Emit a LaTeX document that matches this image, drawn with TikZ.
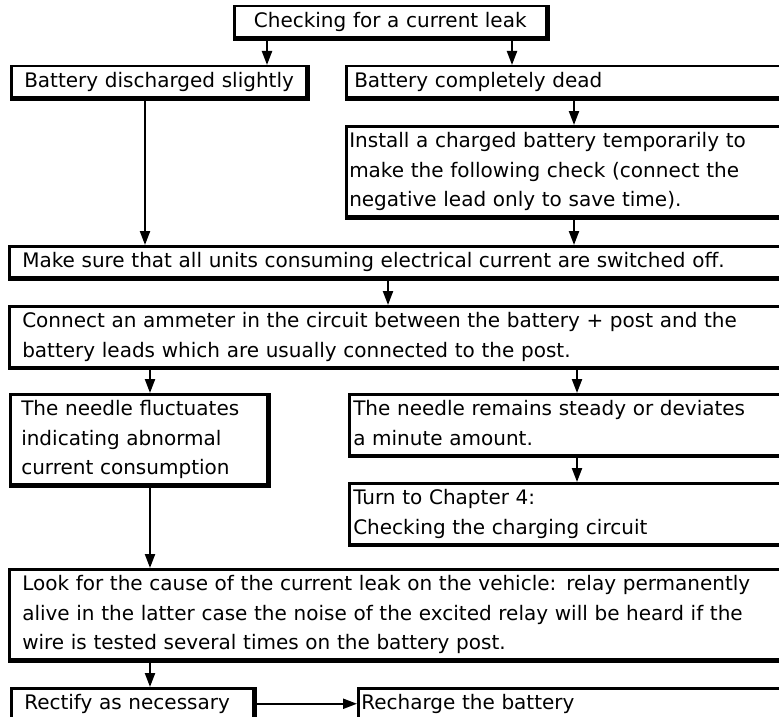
\documentclass[tikz,border=0pt]{standalone}
\usepackage{fontspec}
\setmainfont{DejaVu Sans}
\usetikzlibrary{arrows.meta}
\newcommand\TL[1]{\mbox{\strut #1}}
\newcommand\shadowedge[1]{\draw[edgeline] (#1.south west) -- (#1.south east) -- (#1.north east);}
\tikzset{
  flowbox/.style={draw, line width=2.5pt, anchor=north west, align=left,
    inner ysep=0.75pt, font=\fontsize{20pt}{29.5pt}\selectfont},
  edgeline/.style={line width=4.5pt, line join=miter},
  arr/.style={line width=2.2pt, -{Triangle[length=14pt,width=10pt]}}
}
\begin{document}
\begin{tikzpicture}[x=1pt,y=-1pt]
\useasboundingbox (0,0) rectangle (779,717);
\fill[white] (0,0) rectangle (779,717);
\clip (0,0) rectangle (779,717);
% boxes
\node[flowbox, inner xsep=0pt, text width=312pt, align=center] (top) at (233,5) {\TL{Checking for a current leak}};
\node[flowbox, inner xsep=13pt, text width=269pt] (bl) at (10,65) {\TL{Battery discharged slightly}};
\node[flowbox, inner xsep=8pt, text width=429pt] (br) at (345,65) {\TL{Battery completely dead}};
\node[flowbox, inner xsep=3pt, text width=439pt] (inst) at (345,125) {\TL{Install a charged battery temporarily to}\\\TL{make the following check (connect the}\\\TL{negative lead only to save time).}};
\node[flowbox, inner xsep=13pt, text width=756pt] (sure) at (8,245) {\TL{Make sure that all units consuming electrical current are switched off.}};
\node[flowbox, inner xsep=13pt, text width=756pt] (conn) at (8,305) {\TL{Connect an ammeter in the circuit between the battery + post and the}\\\TL{battery leads which are usually connected to the post.}};
\node[flowbox, inner xsep=11pt, text width=235pt] (nl) at (9,393) {\TL{The needle fluctuates}\\\TL{indicating abnormal}\\\TL{current consumption}};
\node[flowbox, inner xsep=4pt, text width=434pt] (nr) at (348,393) {\TL{The needle remains steady or deviates}\\\TL{a minute amount.}};
\node[flowbox, inner xsep=4pt, text width=434pt] (turn) at (348,482) {\TL{Turn to Chapter 4:}\\\TL{Checking the charging circuit}};
\node[flowbox, inner xsep=13pt, text width=756pt] (look) at (8,568) {\TL{Look for the cause of the current leak on the vehicle: relay permanently}\\\TL{alive in the latter case the noise of the excited relay will be heard if the}\\\TL{wire is tested several times on the battery post.}};
\node[flowbox, inner xsep=13pt, text width=216pt] (rect) at (10,687) {\TL{Rectify as necessary}};
\node[flowbox, inner xsep=3pt, text width=427pt] (rech) at (357,687) {\TL{Recharge the battery}};
% thick right and bottom edges
\foreach \n in {top,bl,br,inst,sure,conn,nl,nr,turn,look,rect,rech}{\shadowedge{\n}}
% x positions of connectors
\coordinate (xa) at (267,0);
\coordinate (xb) at (512,0);
\coordinate (xc) at (574,0);
\coordinate (xd) at (145,0);
\coordinate (xe) at (388,0);
\coordinate (xf) at (150,0);
\coordinate (xg) at (577,0);
% connectors
\draw[arr] (top.south -| xa) -- (bl.north -| xa);
\draw[arr] (top.south -| xb) -- (br.north -| xb);
\draw[arr] (br.south -| xc) -- (inst.north -| xc);
\draw[arr] (bl.south -| xd) -- (sure.north -| xd);
\draw[arr] (inst.south -| xc) -- (sure.north -| xc);
\draw[arr] (sure.south -| xe) -- (conn.north -| xe);
\draw[arr] (conn.south -| xf) -- (nl.north -| xf);
\draw[arr] (conn.south -| xg) -- (nr.north -| xg);
\draw[arr] (nr.south -| xg) -- (turn.north -| xg);
\draw[arr] (nl.south -| xf) -- (look.north -| xf);
\draw[arr] (look.south -| xf) -- (rect.north -| xf);
\draw[arr] (rect.east) -- (rech.west);
\end{tikzpicture}
\end{document}
